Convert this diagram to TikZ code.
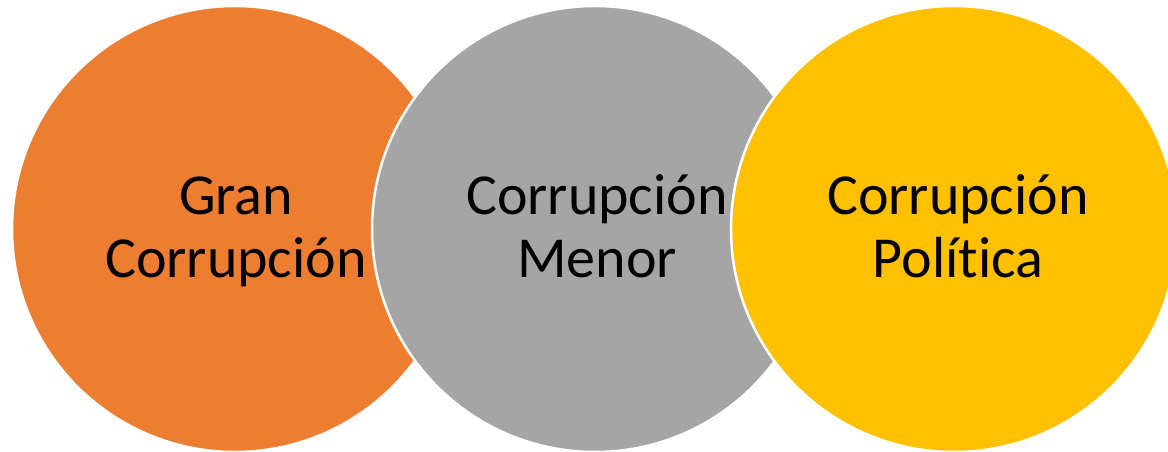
\documentclass[tikz,border=0pt]{standalone}
\usepackage{fontspec}
\setmainfont{Carlito}[Ligatures=NoCommon]
\definecolor{corange}{HTML}{ED7D31}
\definecolor{cgray}{HTML}{A5A5A5}
\definecolor{cyellow}{HTML}{FFC000}
\begin{document}
\begin{tikzpicture}[x=1pt,y=1pt,
  disc/.style={circle,draw=white,line width=2.5pt,minimum size=446pt,inner sep=0pt},
  lbl/.style={align=center,anchor=base,text=black,inner sep=0pt,
    font=\fontsize{58}{63}\selectfont}]
\useasboundingbox (0,0) rectangle (1168,452);
\begin{scope}
\clip (0,0) rectangle (1168,452);
\node[disc,fill=corange] (c1) at (235,223) {};
\node[disc,fill=cgray] (c2) at (595,223) {};
\node[disc,fill=cyellow] (c3) at (954,223) {};
\end{scope}
\node[lbl] (t1) at (236,174) {Gran\\Corrupción};
\node[lbl] (t2) at (597,174) {Corrupción\\Menor};
\node[lbl] (t3) at (958,174) {Corrupción\\Política};
\end{tikzpicture}
\end{document}
